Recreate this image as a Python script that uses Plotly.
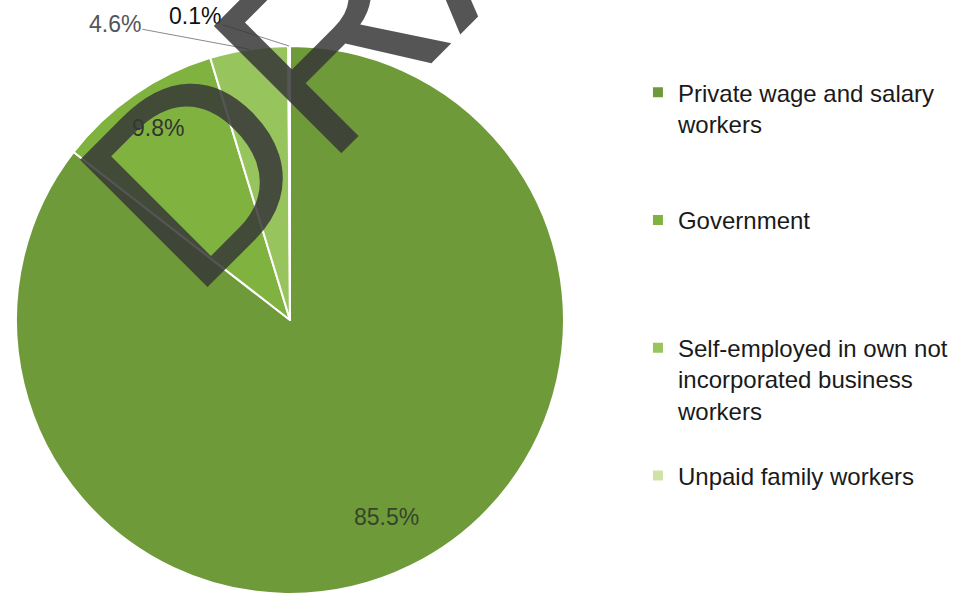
import math
import plotly.graph_objects as go

categories = [
    "Private wage and salary<br>workers",
    "Government",
    "Self-employed in own not<br>incorporated business<br>workers",
    "Unpaid family workers",
]
values = [85.5, 9.8, 4.6, 0.1]
colors = ["#6f9a3a", "#80b240", "#98c45e", "#cfe3a9"]
label_colors = ["#36452a", "#333333", "#555555", "#111111"]

# label placement style: radius fraction for inside labels, pixel offsets for callouts
label_radius = [0.8, 0.85, 1.0, 1.0]
label_callout = [None, None, (-134, -25), (-94, -30)]

# pad legend entries so each first line sits the same distance apart
legend_pad = [2, 3, 1, 0]
legend_names = [c + "<br> " * p for c, p in zip(categories, legend_pad)]

W, H = 971, 594
dom_x = [0.0165, 0.5808]
dom_y = [0.0, 0.9226]

fig = go.Figure(
    go.Pie(
        labels=legend_names,
        values=values,
        sort=False,
        direction="clockwise",
        rotation=0,
        marker=dict(colors=colors, line=dict(color="white", width=2)),
        textinfo="none",
        domain=dict(x=dom_x, y=dom_y),
        hoverinfo="skip",
    )
)

# data labels positioned from the slice geometry
cx = (dom_x[0] + dom_x[1]) / 2
cy = (dom_y[0] + dom_y[1]) / 2
r_px = min((dom_x[1] - dom_x[0]) * W, (dom_y[1] - dom_y[0]) * H) / 2
total = sum(values)
cum = 0.0
for v, col, rf, co in zip(values, label_colors, label_radius, label_callout):
    theta = 2 * math.pi * (cum + v / 2) / total
    cum += v
    px = cx + rf * r_px * math.sin(theta) / W
    py = cy + rf * r_px * math.cos(theta) / H
    font = dict(family="Liberation Sans, Arial", size=23, color=col)
    if co is None:
        fig.add_annotation(x=px, y=py, xref="paper", yref="paper", text=f"{v:.1f}%",
                           xanchor="center", yanchor="middle",
                           showarrow=False, font=font)
    else:
        fig.add_annotation(x=px, y=py, xref="paper", yref="paper", text=f"{v:.1f}%",
                           showarrow=True, arrowhead=0, arrowwidth=1, arrowcolor="#8a8a8a",
                           ax=co[0], ay=co[1], font=font)

fig.add_annotation(
    text="DRAFT",
    xref="paper", yref="paper",
    x=0.450, y=1.1195,
    xanchor="center", yanchor="middle",
    showarrow=False,
    textangle=-45,
    font=dict(family="Liberation Sans, Arial", size=262, color="rgba(55,55,55,0.85)"),
)

fig.update_layout(
    width=W,
    height=H,
    margin=dict(l=0, r=0, t=0, b=0, autoexpand=False),
    paper_bgcolor="white",
    plot_bgcolor="white",
    showlegend=True,
    legend=dict(
        x=0.657, y=0.882, xanchor="left", yanchor="top",
        valign="top",
        font=dict(family="Liberation Sans, Arial", size=24, color="#1a1a1a"),
        bgcolor="rgba(0,0,0,0)",
    ),
)

fig.write_html("out.html", config={"displayModeBar": False},
               post_script="document.body.style.margin='0px';")
